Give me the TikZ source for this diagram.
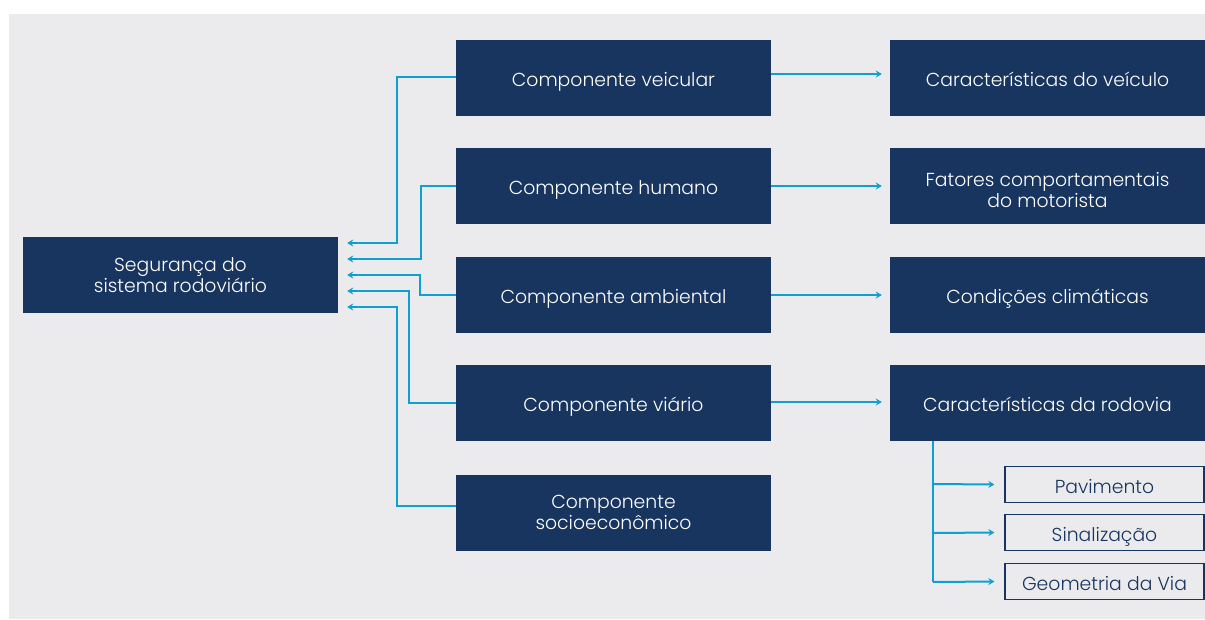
\documentclass[tikz,border=0pt]{standalone}
\usepackage{fontspec}
\setmainfont{Poppins}[UprightFont=* Light]
\usetikzlibrary{arrows.meta,calc}
\definecolor{navy}{RGB}{24,53,95}
\definecolor{cyanl}{RGB}{14,160,208}
\definecolor{bggray}{RGB}{235,235,237}
\newcommand{\twolinelow}[3]{\raisebox{#1}[0pt][0pt]{\begin{tabular}[b]{@{}c@{}}#2\\#3\end{tabular}}}
\begin{document}
\begin{tikzpicture}[x=1pt,y=-1pt,
  box/.style={fill=navy,text=white,minimum width=315pt,minimum height=76pt,inner sep=0pt,align=center,font=\fontsize{18.8}{21}\selectfont},
  oneline/.style={box,text height=18pt,text depth=2pt},
  subbox/.style={draw=navy,line width=1.2pt,fill=bggray,text=navy,minimum width=199pt,minimum height=36pt,inner sep=0pt,font=\fontsize{18.8}{21}\selectfont,text height=18pt,text depth=0pt},
  conn/.style={draw=cyanl,line width=2pt,-{Stealth[length=6pt,width=7pt,inset=2pt]}}]
\useasboundingbox (0,0) rectangle (1205,619);
\fill[white] (0,0) rectangle (1205,619);
\fill[bggray] (9,14) rectangle (1205,619);
% left
\node[box] (seg) at (180.5,275) {Segurança do\\sistema rodoviário};
% middle
\node[oneline] (veic) at (613.5,78) {Componente veicular};
\node[oneline] (hum) at (613.5,186) {Componente humano};
\node[oneline] (amb) at (613.5,295) {Componente ambiental};
\node[oneline] (via) at (613.5,403) {Componente viário};
\node[box] (soc) at (613.5,512.5) {Componente\\socioeconômico};
% right
\node[oneline] (carv) at (1047.5,78) {Características do veículo};
\node[box] (fat) at (1047.5,186) {\twolinelow{-21pt}{Fatores comportamentais}{do motorista}};
\node[oneline] (cond) at (1047.5,295) {Condições climáticas};
\node[oneline] (carr) at (1047.5,403) {Características da rodovia};
% sub
\node[subbox] (pav) at (1104.5,484.5) {Pavimento};
\node[subbox] (sin) at (1104.5,532.5) {Sinalização};
\node[subbox] (geo) at (1104.5,581.5) {Geometria da Via};
% connectors to left box
\coordinate (in1) at ($(seg.east)+(9,-32)$);
\coordinate (in2) at ($(seg.east)+(9,-16)$);
\coordinate (in3) at ($(seg.east)+(9,0)$);
\coordinate (in4) at ($(seg.east)+(9,16)$);
\coordinate (in5) at ($(seg.east)+(9,32)$);
\draw[conn] ($(veic.west)+(0,-1)$) -- (397,77) -- (397,243) -- (in1);
\draw[conn] (hum.west) -- (421,186) -- (421,259) -- (in2);
\draw[conn] (amb.west) -- (420,295) -- (420,275) -- (in3);
\draw[conn] (via.west) -- (409,403) -- (409,291) -- (in4);
\draw[conn] ($(soc.west)+(0,-6.5)$) -- (397,506) -- (397,307) -- (in5);
% connectors to right
\coordinate (t1) at ($(carv.west)+(-8,-4)$);
\draw[conn] ($(veic.east)+(0,-4)$) -- (t1);
\draw[conn] (hum.east) -- ($(fat.west)+(-8,0)$);
\draw[conn] (amb.east) -- ($(cond.west)+(-8,0)$);
\draw[conn] ($(via.east)+(0,-1)$) -- ($(carr.west)+(-8,-1)$);
% sub tree
\coordinate (st) at (933,441);
\draw[draw=cyanl,line width=2pt] (st) -- (933,582);
\draw[conn] (933,484) -- ($(pav.west)+(-10,0)$);
\draw[conn] (933,533) -- ($(sin.west)+(-10,0)$);
\draw[conn] (933,582) -- ($(geo.west)+(-10,0)$);
\end{tikzpicture}
\end{document}
